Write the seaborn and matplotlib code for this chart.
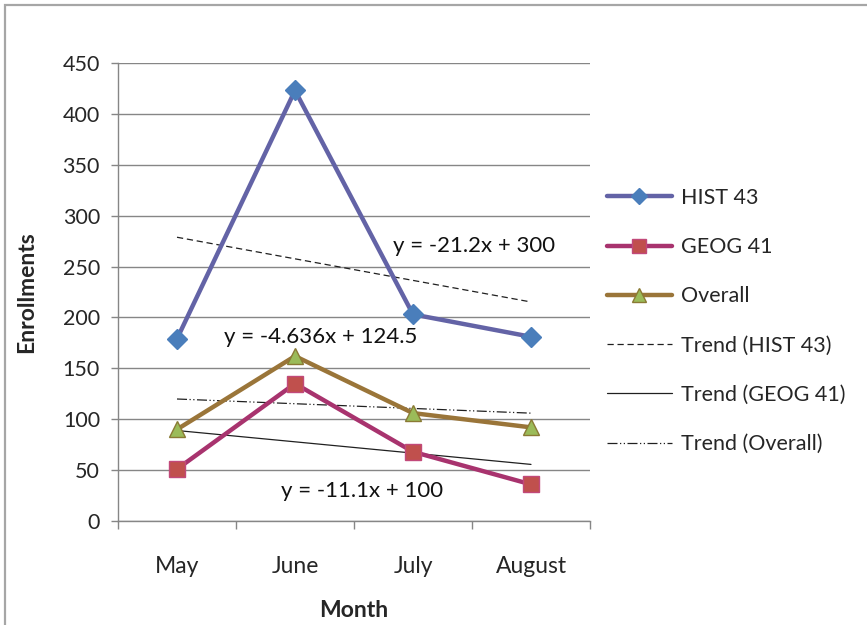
import matplotlib
matplotlib.use("Agg")
import matplotlib.pyplot as plt
import seaborn as sb
import numpy as np
import pandas as pd
from matplotlib.patches import Rectangle
from matplotlib.lines import Line2D

months = ["May", "June", "July", "August"]
hist43 = [179, 423, 203, 181]
geog41 = [51, 135, 68, 36]
overall = [90, 162, 106, 92]

# trendline coefficients as printed on the chart (x = 1..4)
trend_slope = [-21.2, -11.1, -4.636]
trend_icpt = [300, 100, 124.5]
trend_text = ["y = -21.2x + 300", "y = -11.1x + 100", "y = -4.636x + 124.5"]
trend_text_pos = [(2.52, 270), (1.57, 29), (1.22, 181)]

sb.set_style("white")
plt.rcParams["font.family"] = ["Lato", "DejaVu Sans"]

fig = plt.figure(figsize=(8.67, 6.25), dpi=100)
ax = fig.add_axes([118 / 867, 1 - 521 / 625, 472 / 867, 458 / 625])

# outer chart frame (cut off at right / bottom like the source)
fig.patches.append(Rectangle((5 / 867, -0.2), 1.3, 1.2 - 5 / 625,
                             transform=fig.transFigure, fill=False,
                             edgecolor="#a6a6a6", lw=1.6))

df = pd.DataFrame({"pos": np.arange(len(months)), "month": months,
                   "HIST 43": hist43, "GEOG 41": geog41, "Overall": overall})

series = [
    ("HIST 43", "#6363a6", "D", "#4a7ebb", "#4a7ebb", 10),
    ("GEOG 41", "#a8336e", "s", "#c0504d", "#c2497a", 12),
    ("Overall", "#9a7539", "^", "#9bbb59", "#8a7a34", 12),
]
for name, lc, mk, mf, me, ms in series:
    sb.lineplot(data=df, x="pos", y=name, ax=ax, color=lc, lw=3.2,
                marker=mk, markersize=ms, markerfacecolor=mf,
                markeredgecolor=me, markeredgewidth=1, zorder=3)

styles = [(0, (5, 3)), "-", (0, (8, 2, 1, 2, 1, 2))]
xs = np.arange(1, len(months) + 1)
for k in range(3):
    ty = trend_slope[k] * xs + trend_icpt[k]
    sb.lineplot(x=xs - 1, y=ty, ax=ax, color="#202020", lw=0.9,
                linestyle=styles[k], zorder=2)
    tx, tyy = trend_text_pos[k]
    ax.text(tx, tyy, trend_text[k], ha="center", va="center",
            fontsize=16, color="#111111", zorder=4)

ax.set_xlim(-0.5, 3.5)
ax.set_ylim(0, 450)
ax.set_yticks(np.arange(0, 451, 50))
ax.set_xticks(np.arange(len(months)))
ax.set_xticklabels(months)
ax.set_xticks(np.arange(-0.5, 3.6, 1), minor=True)
ax.tick_params(axis="x", which="major", length=0, pad=25, labelsize=16.5)
ax.tick_params(axis="x", which="minor", length=6, width=1, color="#868686",
               direction="out", bottom=True)
ax.tick_params(axis="y", length=5, width=1, color="#868686", direction="out",
               pad=8, labelsize=15.5, left=True)
ax.yaxis.grid(True, color="#868686", lw=1)
ax.xaxis.grid(False)
for s in ["top", "right"]:
    ax.spines[s].set_visible(False)
for s in ["left", "bottom"]:
    ax.spines[s].set_color("#868686")
    ax.spines[s].set_linewidth(1)

ax.set_xlabel("Month", fontsize=16.5, fontweight="bold", labelpad=17)
ax.set_ylabel("Enrollments", fontsize=16.5, fontweight="bold", labelpad=18)

handles = [Line2D([], [], color=lc, lw=3.2, marker=mk, markersize=ms * 0.85,
                  markerfacecolor=mf, markeredgecolor=me)
           for name, lc, mk, mf, me, ms in series]
handles += [Line2D([], [], color="#202020", lw=0.9, linestyle=st) for st in styles]
labels = ["HIST 43", "GEOG 41", "Overall",
          "Trend (HIST 43)", "Trend (GEOG 41)", "Trend (Overall)"]
fig.legend(handles, labels, loc="center left",
           bbox_to_anchor=(607 / 867, 1 - 321 / 625), frameon=False,
           fontsize=15.5, handlelength=3.0, handletextpad=0.45,
           labelspacing=1.36, borderpad=0, borderaxespad=0)

fig.savefig("out.png", dpi=100)
